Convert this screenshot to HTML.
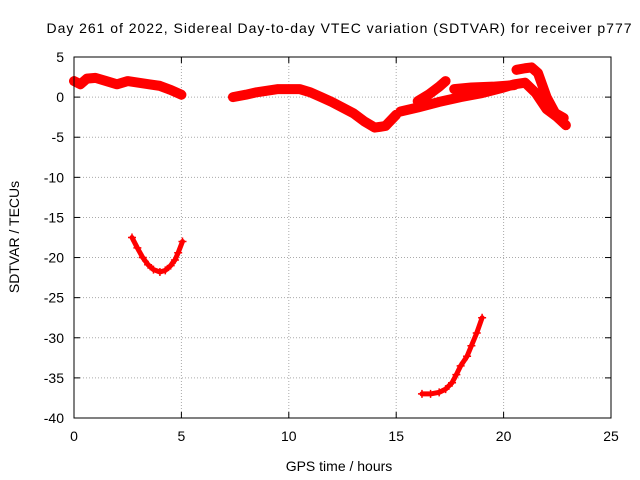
<!DOCTYPE html>
<html><head><meta charset="utf-8"><style>
body{margin:0;background:#fff}
svg{display:block;font-family:"Liberation Sans",sans-serif}
</style></head><body>
<svg id="chart" width="640" height="480">
<text x="339" y="33" text-anchor="middle" font-size="14" textLength="585">Day 261 of 2022, Sidereal Day-to-day VTEC variation (SDTVAR) for receiver p777</text>
<text x="339" y="471" text-anchor="middle" font-size="14">GPS time / hours</text>
<text transform="translate(19,237) rotate(-90)" text-anchor="middle" font-size="14">SDTVAR / TECUs</text>
<g id="grid"></g><g id="ticks"></g><g id="marks"></g>
<rect x="74" y="57" width="537" height="361" fill="none" stroke="#000"/>
</svg>
<script>
const xTicks=[0,5,10,15,20,25];
const yTicks=[5,0,-5,-10,-15,-20,-25,-30,-35,-40];
const seriesA=[[0,2],[0.3,1.6],[0.6,2.3],[1,2.4],[1.5,2],[2,1.6],[2.5,2],[3,1.8],[3.5,1.6],[4,1.4],[4.5,0.9],[5,0.3]];
const seriesB=[[7.4,0],[8,0.3],[8.5,0.6],[9,0.8],[9.5,1],[10,1],[10.5,1],[11,0.6],[11.5,0],[12,-0.6],[12.5,-1.3],[13,-2],[13.5,-3],[14,-3.8],[14.5,-3.6],[15,-2.2]];
const seriesC=[[15.2,-1.8],[16,-1.3],[17,-0.6],[18,0],[19,0.5],[20,1.2],[20.5,1.6],[21,1.8],[21.5,0.5],[22,-1.5],[22.5,-2.5],[22.9,-3.5]];
const seriesD=[[16,-0.5],[16.5,0.3],[17,1.3],[17.3,2]];
const seriesE=[[17.7,1],[18.5,1.2],[19.5,1.3],[20.5,1.5]];
const seriesF=[[20.6,3.4],[21,3.6],[21.3,3.7],[21.6,3],[22,0],[22.4,-2],[22.8,-2.6]];
const seriesG=[[2.7,-17.5],[2.95,-18.8],[3.2,-20],[3.45,-20.9],[3.7,-21.5],[4,-21.8],[4.25,-21.6],[4.5,-21],[4.7,-20.3],[4.85,-19.4],[5.05,-18]];
const seriesH=[[16.2,-37],[16.6,-37],[17,-36.8],[17.3,-36.4],[17.6,-35.6],[17.8,-34.6],[18,-33.5],[18.3,-32.3],[18.5,-31],[18.75,-29.4],[19,-27.5]];
const allSeries=[seriesA,seriesB,seriesC,seriesD,seriesE,seriesF,seriesG,seriesH];
const L=74,R=611,T=57,B=418;
const sx=v=>L+(v-0)/(25-0)*(R-L);
const sy=v=>T+(5-v)/(5-(-40))*(B-T);
const NS="http://www.w3.org/2000/svg";
function mk(tag,attrs,parent){const e=document.createElementNS(NS,tag);for(const k in attrs)e.setAttribute(k,attrs[k]);parent.appendChild(e);return e;}
const grid=document.getElementById('grid'),ticks=document.getElementById('ticks'),marks=document.getElementById('marks');
xTicks.forEach(t=>{const x=sx(t);
 if(t>0&&t<25){const g=mk('line',{x1:x,x2:x,y1:T,y2:B,stroke:'#aaa','stroke-dasharray':'1,2'},grid);
 
 }
 mk('line',{x1:x,x2:x,y1:B,y2:B-6,stroke:'#000'},ticks);mk('line',{x1:x,x2:x,y1:T,y2:T+6,stroke:'#000'},ticks);
 const lb=mk('text',{x:x,y:B+23,'text-anchor':'middle','font-size':14},ticks);lb.textContent=t;
 
 });
yTicks.forEach(t=>{const y=sy(t);
 if(t<5&&t>-40){const g=mk('line',{x1:L,x2:R,y1:y,y2:y,stroke:'#aaa','stroke-dasharray':'1,2'},grid);
 
 }
 mk('line',{x1:L,x2:L+6,y1:y,y2:y,stroke:'#000'},ticks);mk('line',{x1:R,x2:R-6,y1:y,y2:y,stroke:'#000'},ticks);
 const lb=mk('text',{x:L-10,y:y+5,'text-anchor':'end','font-size':14},ticks);lb.textContent=t;
 
 });
allSeries.forEach((s,i)=>{
 const p=mk('polyline',{points:s.map(d=>sx(d[0])+','+sy(d[1])).join(' '),fill:'none',stroke:'#f00','stroke-width':(i>=6?5:10),'stroke-linejoin':'round','stroke-linecap':'round'},marks);
 
 
 s.forEach(d=>{const x=sx(d[0]),y=sy(d[1]);
  const m=mk('path',{d:`M${x-4},${y}H${x+4}M${x},${y-4}V${y+4}`,stroke:'#f00','stroke-width':1.5},marks);
  
  });
});
</script>
</body></html>
